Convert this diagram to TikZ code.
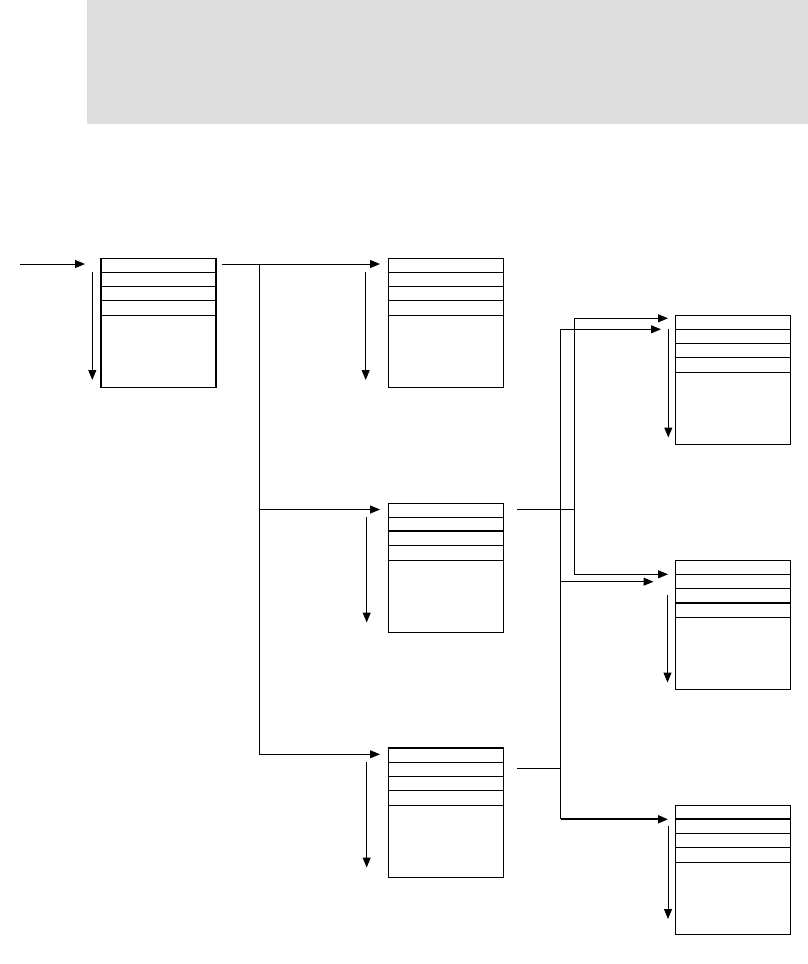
\documentclass[tikz,border=0pt]{standalone}
\usetikzlibrary{arrows.meta,calc}
\definecolor{bannergray}{HTML}{DCDDDC}
\tikzset{
  tbox/.style={draw, line width=1pt, minimum width=115pt, minimum height=129pt, inner sep=0pt, anchor=north west},
  rowline/.style={line width=1pt},
  rowthick/.style={line width=2pt},
  conn/.style={line width=1pt},
  arr/.style={line width=1pt, -{Triangle[length=10pt,width=8pt]}},
  arrthick/.style={line width=1.8pt, -{Triangle[length=10pt,width=8pt]}}
}
\newcommand{\tblrows}[1]{%
  \foreach \d in {14.5,29,43,57.5}{
    \draw[rowline] ([yshift=-\d pt]#1.north west) -- ([yshift=-\d pt]#1.north east);
  }}
\begin{document}
\begin{tikzpicture}[x=1pt,y=-1pt]
\useasboundingbox (0,0) rectangle (808,964);
\fill[bannergray] (87,0) rectangle (808,124);

% boxes
\node[tbox, line width=1.5pt] (b1) at (100,257.5) {};
\node[tbox] (b2) at (387.5,257.5) {};
\node[tbox] (b3) at (387.5,502.5) {};
\node[tbox] (b4) at (387.5,747.5) {};
\node[tbox] (b5) at (675,314.5) {};
\node[tbox] (b6) at (675,559.5) {};
\node[tbox] (b7) at (675,804.5) {};
\foreach \b in {b1,b2,b3,b4,b5,b6,b7}{\tblrows{\b}}
% thick rules
\draw[rowthick] ([yshift=-28pt]b3.north west) -- ([yshift=-28pt]b3.north east);
\draw[rowthick] (b4.north west) -- (b4.north east);
\draw[rowthick] ([yshift=-43pt]b6.north west) -- ([yshift=-43pt]b6.north east);
\draw[rowthick] ([yshift=-14.5pt]b7.north west) -- ([yshift=-14.5pt]b7.north east);

% down arrows
\coordinate (d1a) at (92.3,271.7);  \coordinate (d1b) at (92.3,380);
\coordinate (d2a) at (365.7,271.7); \coordinate (d2b) at (365.7,380);
\coordinate (d3a) at (366.7,516.7); \coordinate (d3b) at (366.7,622.5);
\coordinate (d4a) at (366.7,761.7); \coordinate (d4b) at (366.7,867.5);
\coordinate (d5a) at (668.3,329);   \coordinate (d5b) at (668.3,437.5);
\coordinate (d6a) at (667.5,595);   \coordinate (d6b) at (667.5,682.5);
\coordinate (d7a) at (668,826);     \coordinate (d7b) at (668,919);
\foreach \k in {1,...,7}{\draw[arr] (d\k a) -- (d\k b);}

% input
\coordinate (in) at (20,264);
\coordinate (t1) at (85,264);
\draw[arr] (in) -- (t1);

% from box 1
\coordinate (o1) at (221.7,264);
\coordinate (t2) at (380,264);
\coordinate (t3) at (380,509.5);
\coordinate (t4) at (380,754.3);
\coordinate (j1) at (259,264);
\coordinate (j2) at (259,509.5);
\draw[arr] (o1) -- (t2);
\draw[conn] (j1) -- (259,754.3);
\draw[arr] (j2) -- (t3);
\draw[arr] (259,754.3) -- (t4);

% from box 3
\coordinate (o3) at (517,509.5);
\coordinate (j3) at (574.3,509.5);
\coordinate (t5a) at (668,318.3);
\coordinate (t6a) at (668,574.3);
\draw[conn] (o3) -- (j3);
\draw[arr] (j3) |- (t5a);
\draw[arr] (j3) |- (t6a);

% from box 4
\coordinate (o4) at (517,768.7);
\coordinate (j4) at (560.7,768.7);
\coordinate (j5) at (560.7,819.3);
\coordinate (t5b) at (661,329.3);
\coordinate (t6b) at (653.5,581.7);
\coordinate (t7) at (668,819.3);
\draw[conn] (o4) -- (j4);
\draw[arr] (j4) |- (t5b);
\draw[arr] (j4) |- (t6b);
\draw[conn] (j4) -- (j5);
\draw[arrthick] (j5) -- (t7);
\end{tikzpicture}
\end{document}
